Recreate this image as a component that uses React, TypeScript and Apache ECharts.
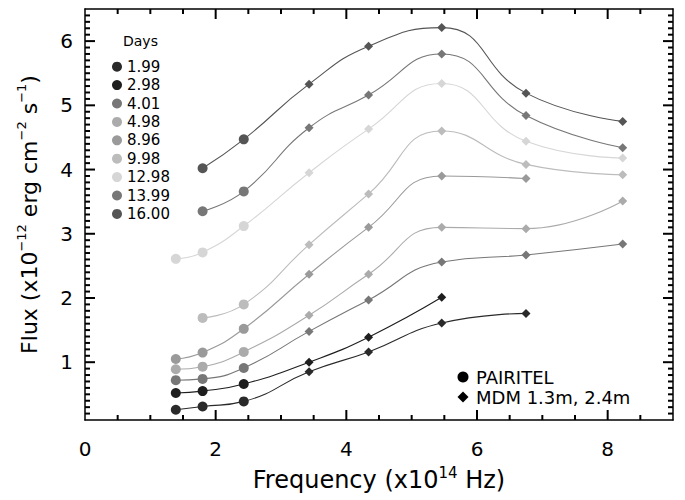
import React, { useEffect, useRef } from "react";
import * as echarts from "echarts";

// Frequencies (x10^14 Hz): PAIRITEL K, H, J then MDM bands
const FREQ = [1.39, 1.8, 2.43, 3.43, 4.34, 5.46, 6.75, 8.23];

const DAYS = ["1.99", "2.98", "4.01", "4.98", "8.96", "9.98", "12.98", "13.99", "16.00"];
const COLORS = ["#2a2a2a", "#1e1e1e", "#777777", "#ababab", "#9a9a9a", "#bcbcbc", "#d6d6d6", "#777777", "#555555"];

const FLUX_D1_99 = [0.26, 0.31, 0.39, 0.85, 1.16, 1.61, 1.76, null];
const FLUX_D2_98 = [0.52, 0.55, 0.66, 1.0, 1.39, 2.01, null, null];
const FLUX_D4_01 = [0.72, 0.74, 0.91, 1.48, 1.97, 2.56, 2.67, 2.84];
const FLUX_D4_98 = [0.89, 0.93, 1.16, 1.73, 2.37, 3.1, 3.08, 3.51];
const FLUX_D8_96 = [1.05, 1.15, 1.52, 2.37, 3.1, 3.9, 3.86, null];
const FLUX_D9_98 = [null, 1.69, 1.9, 2.83, 3.62, 4.6, 4.08, 3.92];
const FLUX_D12_98 = [2.61, 2.71, 3.12, 3.95, 4.63, 5.34, 4.44, 4.18];
const FLUX_D13_99 = [null, 3.35, 3.66, 4.65, 5.16, 5.8, 4.84, 4.34];
const FLUX_D16_00 = [null, 4.02, 4.47, 5.33, 5.92, 6.21, 5.19, 4.75];

const SERIES_VALUES = [
  FLUX_D1_99, FLUX_D2_98, FLUX_D4_01, FLUX_D4_98, FLUX_D8_96,
  FLUX_D9_98, FLUX_D12_98, FLUX_D13_99, FLUX_D16_00,
];

const X_LABELS = [0, 2, 4, 6, 8];
const Y_LABELS = [1, 2, 3, 4, 5, 6];
const X_MIN = 0, X_MAX = 9, Y_MIN = 0.1, Y_MAX = 6.5;
const X_MINOR_STEP = 0.5, Y_MINOR_STEP = 0.1;

const FONT = "DejaVu Sans";
const INK = "#000";

function stepValues(min: number, max: number, step: number) {
  const out: number[] = [];
  const start = Math.ceil(min / step - 1e-9);
  const end = Math.floor(max / step + 1e-9);
  for (let k = start; k <= end; k++) {
    const v = Math.round(k * step * 1000) / 1000;
    if (v > min + 1e-9 && v < max - 1e-9) out.push(v);
  }
  return out;
}

export default function App() {
  const ref = useRef<HTMLDivElement>(null);
  useEffect(() => {
    const chart = echarts.init(ref.current!, null, { renderer: "svg" });

    const line = { show: true, onZero: false, lineStyle: { color: INK, width: 1.5 } };

    const series: any[] = SERIES_VALUES.map((vals, i) => ({
      type: "line",
      name: DAYS[i],
      smooth: 0.5,
      color: COLORS[i],
      lineStyle: { width: 1.1, color: COLORS[i] },
      itemStyle: { color: COLORS[i] },
      showSymbol: true,
      z: 3 + i,
      data: FREQ.map((f, j) => ({ f, v: vals[j] }))
        .filter((p) => p.v !== null)
        .map((p) => ({
          value: [p.f, p.v],
          symbol: p.f < 3 ? "circle" : "diamond",
          symbolSize: p.f < 3 ? 10 : 9,
        })),
    }));

    chart.setOption({
      animation: false,
      backgroundColor: "#fff",
      grid: { left: 85, right: 12, top: 9, bottom: 73, containLabel: false },
      xAxis: [
        {
          type: "value", min: X_MIN, max: X_MAX, interval: 2, position: "bottom", axisLine: line,
          axisTick: { show: false }, splitLine: { show: false },
          axisLabel: { show: true, showMaxLabel: false, fontSize: 20, color: INK, fontFamily: FONT, margin: 19 },
          name: "Frequency (x10{sup|14} Hz)", nameLocation: "middle", nameGap: 45,
          nameTextStyle: {
            fontSize: 24, color: INK, fontFamily: FONT, lineHeight: 30,
            rich: { sup: { fontSize: 15, fontFamily: FONT, color: INK, verticalAlign: "top", lineHeight: 16 } },
          },
        },
        {
          type: "value", min: X_MIN, max: X_MAX, position: "top", axisLine: line,
          axisTick: { show: false }, axisLabel: { show: false }, splitLine: { show: false },
        },
      ],
      yAxis: [
        {
          type: "value", min: Y_MIN, max: Y_MAX, position: "left", axisLine: line,
          axisTick: { show: false }, splitLine: { show: false },
          axisLabel: { show: true, customValues: Y_LABELS, fontSize: 20, color: INK, fontFamily: FONT, margin: 12 },
          name: "Flux (x10{sup|−12} erg cm{sup|−2} s{sup|−1})", nameLocation: "middle", nameGap: 42,
          nameTextStyle: {
            fontSize: 22, color: INK, fontFamily: FONT, lineHeight: 28,
            rich: { sup: { fontSize: 13, fontFamily: FONT, color: INK, verticalAlign: "top", lineHeight: 14 } },
          },
        },
        {
          type: "value", min: Y_MIN, max: Y_MAX, position: "right", axisLine: line,
          axisTick: { show: false }, axisLabel: { show: false }, splitLine: { show: false },
        },
      ],
      legend: {
        data: DAYS,
        orient: "vertical",
        left: 107,
        top: 52.5,
        icon: "circle",
        itemWidth: 10,
        itemHeight: 10,
        itemGap: 0,
        selectedMode: false,
        textStyle: { fontSize: 15, lineHeight: 18.4, color: INK, fontFamily: FONT },
      },
      series,
    } as any);

    // tick marks on all four sides (pointing inward), placed through the chart's own axis scales
    const px = (x: number, y: number) => chart.convertToPixel({ xAxisIndex: 0, yAxisIndex: 0 }, [x, y]) as number[];
    const tickEls: any[] = [];
    const mk = (x1: number, y1: number, x2: number, y2: number) => ({
      type: "line", silent: true, z: 20,
      shape: { x1, y1, x2, y2 },
      style: { stroke: INK, lineWidth: 2 },
    });
    stepValues(X_MIN, X_MAX, X_MINOR_STEP).forEach((v) => {
      const len = X_LABELS.some((m) => Math.abs(m - v) < 1e-6) ? 10 : 5;
      const b = px(v, Y_MIN);
      const t = px(v, Y_MAX);
      tickEls.push(mk(b[0], b[1], b[0], b[1] - len), mk(t[0], t[1], t[0], t[1] + len));
    });
    stepValues(Y_MIN, Y_MAX, Y_MINOR_STEP).forEach((v) => {
      const len = Y_LABELS.some((m) => Math.abs(m - v) < 1e-6) ? 10 : 5;
      const l = px(X_MIN, v);
      const r = px(X_MAX, v);
      tickEls.push(mk(l[0], l[1], l[0] + len, l[1]), mk(r[0], r[1], r[0] - len, r[1]));
    });

    chart.setOption({
      graphic: [
        { type: "text", x: 123, y: 41, style: { text: "Days", fontSize: 14, fontFamily: FONT, fill: INK, verticalAlign: "middle" } },
        { type: "circle", shape: { cx: 463, cy: 377, r: 5.5 }, style: { fill: "#000" } },
        { type: "text", x: 476, y: 377, style: { text: "PAIRITEL", fontSize: 18, fontFamily: FONT, fill: INK, verticalAlign: "middle" } },
        { type: "polygon", shape: { points: [[463, 391.5], [468.5, 397], [463, 402.5], [457.5, 397]] }, style: { fill: "#000" } },
        { type: "text", x: 476, y: 397, style: { text: "MDM 1.3m, 2.4m", fontSize: 18, fontFamily: FONT, fill: INK, verticalAlign: "middle" } },
        ...tickEls,
      ],
    } as any);
    return () => chart.dispose();
  }, []);
  return (
    <div
      ref={ref}
      style={{ position: "fixed", left: 0, top: 0, width: 685, height: 500, background: "#fff" }}
    />
  );
}
